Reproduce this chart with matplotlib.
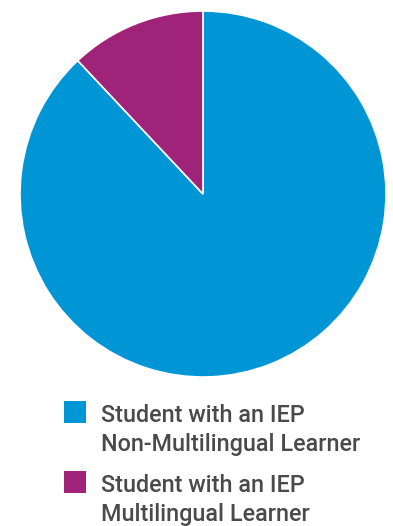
import matplotlib
matplotlib.use("Agg")
import matplotlib.pyplot as plt
from matplotlib.patches import Rectangle

categories = ["Student with an IEP\nNon-Multilingual Learner",
              "Student with an IEP\nMultilingual Learner"]
values = [88, 12]
colors = ["#0096D6", "#A0237A"]

W, H = 393, 526
fig = plt.figure(figsize=(W / 100, H / 100), dpi=100)
cx, cy, r = 203, 194, 183
ax = fig.add_axes([(cx - r) / W, 1 - (cy + r) / H, 2 * r / W, 2 * r / H])
wedges, _ = ax.pie(values, colors=colors, startangle=90, counterclock=False,
                   radius=1, wedgeprops=dict(edgecolor="white", linewidth=1.2))
ax.set_xlim(-1.0, 1.0)
ax.set_ylim(-1.0, 1.0)
ax.set_aspect("equal")
ax.axis("off")

# legend (manual, in pixel positions)
sq_x, sq_size = 64, 22
text_x = 101
entry_top = [401, 471]
line_gap = 29.5
for i, (lab, col) in enumerate(zip(categories, colors)):
    top = entry_top[i]
    fig.patches.append(Rectangle((sq_x / W, 1 - (top + sq_size) / H),
                                 sq_size / W, sq_size / H,
                                 transform=fig.transFigure, facecolor=col,
                                 edgecolor="none"))
    for j, line in enumerate(lab.split("\n")):
        base = top + 20.7 + j * line_gap
        fig.text(text_x / W, 1 - base / H, line, ha="left", va="baseline",
                 family="Roboto", fontsize=16.8, weight="medium",
                 color="#4a4a4a")

fig.savefig("out.png", dpi=100)
